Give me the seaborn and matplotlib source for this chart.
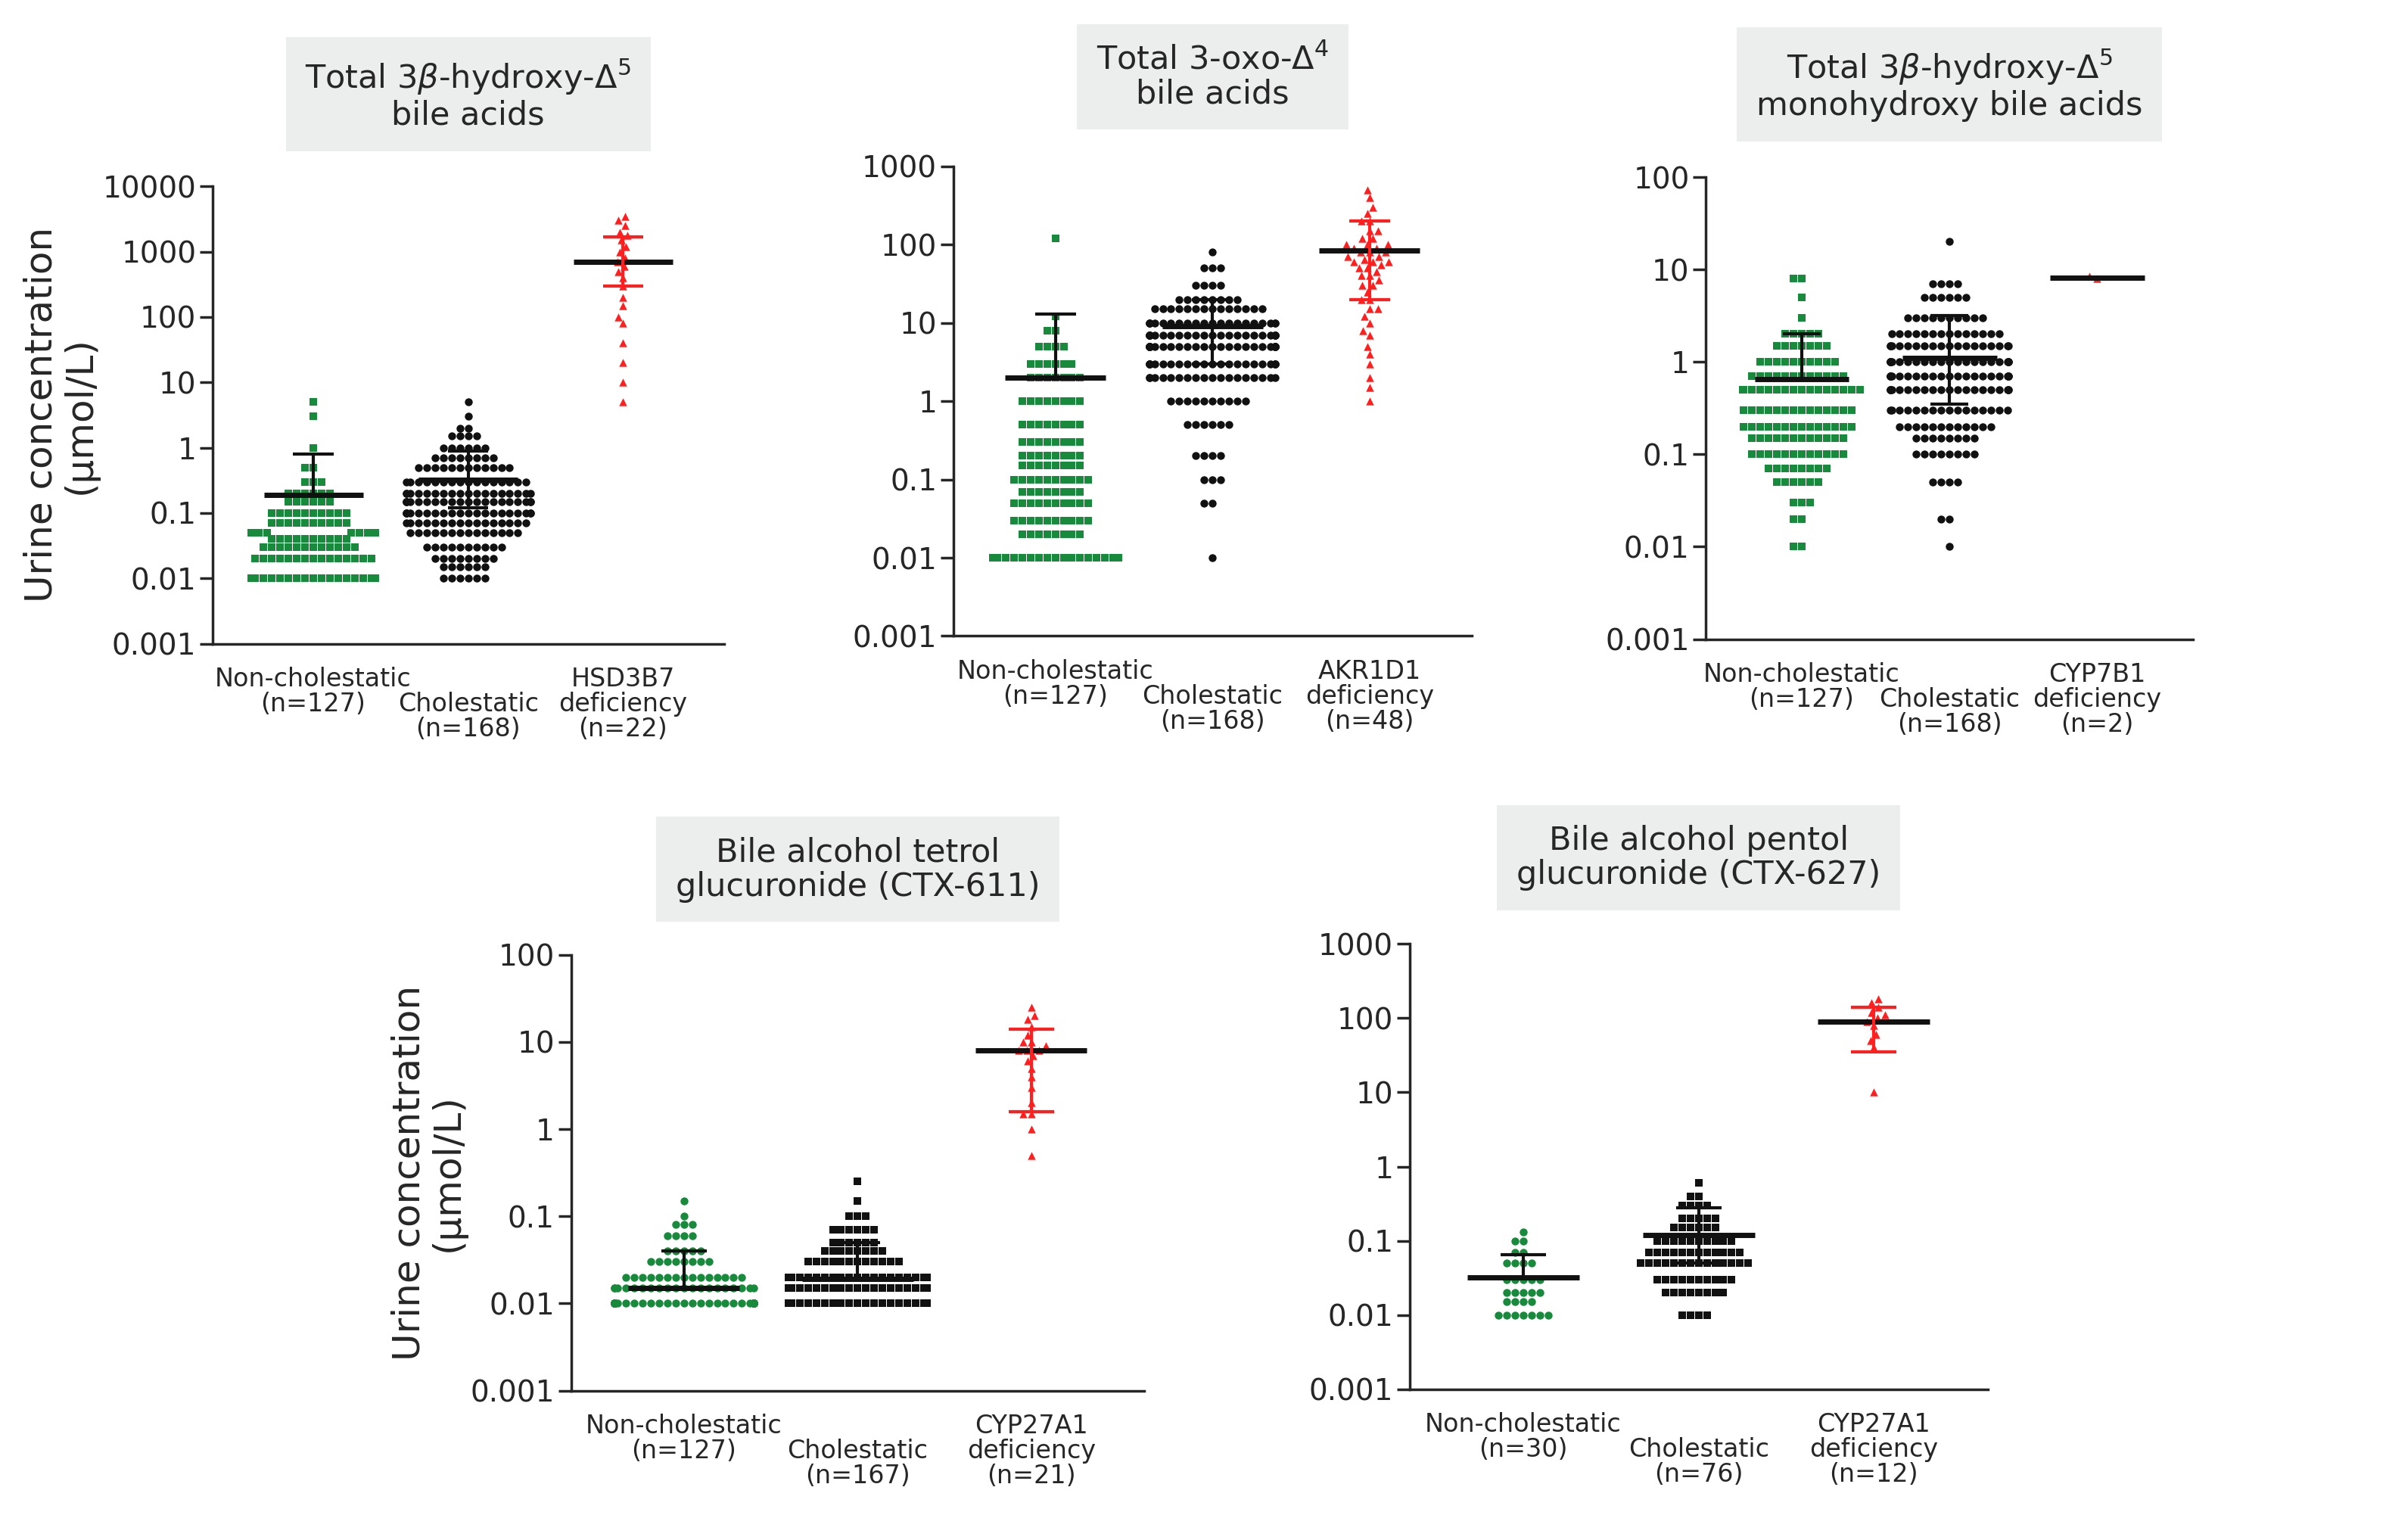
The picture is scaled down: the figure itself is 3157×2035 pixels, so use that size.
import numpy as np
import pandas as pd
import seaborn as sns
import matplotlib.pyplot as plt
from matplotlib.ticker import FixedLocator, NullLocator

sns.set_style("ticks")
plt.rcParams['font.family'] = ['DejaVu Sans']

def counts(d):
	vals = []
	for v, n in d.items():
		vals += [v]*n
	return vals

# Panel definitions: title, axes rect, ylim top, groups (label, values, marker, colour, median, low, high)
GREEN = '#178a3c'
BLACK = '#111111'
RED = '#ff1f1f'

panels = [
	(r"Total 3$\beta$-hydroxy-$\Delta^5$" + "\nbile acids", [0.089, 0.582, 0.214, 0.297], 10000, True, [
		("Non-cholestatic\n(n=127)", counts({0.01:40, 0.02:15, 0.03:12, 0.04:10, 0.05:10, 0.07:10, 0.1:10, 0.15:6, 0.2:6, 0.3:3, 0.5:2, 1:1, 3:1, 5:1}), 's', GREEN, 0.19, 0.19, 0.8),
		("\nCholestatic\n(n=168)", counts({0.01:6, 0.015:6, 0.02:8, 0.03:10, 0.05:14, 0.07:16, 0.1:20, 0.15:20, 0.2:18, 0.3:16, 0.5:12, 0.7:8, 1:6, 1.5:4, 2:2, 3:1, 5:1}), 'o', BLACK, 0.32, 0.12, 0.9),
		("HSD3B7\ndeficiency\n(n=22)", [5, 10, 20, 40, 80, 100, 150, 200, 300, 400, 500, 600, 700, 800, 1000, 1200, 1500, 1800, 2000, 2500, 3000, 3500], '^', RED, 700, 300, 1700),
	]),
	(r"Total 3-oxo-$\Delta^4$" + "\nbile acids", [0.399, 0.587, 0.217, 0.305], 1000, False, [
		("Non-cholestatic\n(n=127)", counts({0.01:20, 0.02:8, 0.03:10, 0.05:10, 0.07:8, 0.1:10, 0.15:8, 0.2:8, 0.3:8, 0.5:8, 1:8, 2:7, 3:6, 5:4, 8:2, 12:1, 120:1}), 's', GREEN, 2, 2, 13),
		("\nCholestatic\n(n=168)", counts({0.01:1, 0.05:2, 0.1:3, 0.2:4, 0.5:6, 1:10, 2:18, 3:22, 5:28, 7:24, 10:20, 15:14, 20:8, 30:4, 50:3, 80:1}), 'o', BLACK, 9, 3, 20),
		("AKR1D1\ndeficiency\n(n=48)", [1, 1.5, 2, 3, 4, 5, 7, 10, 12, 15, 20, 25, 30, 40, 50, 60, 70, 80, 90, 100, 120, 150, 200, 250, 300, 400, 500,
			30, 40, 50, 60, 70, 80, 100, 100, 120, 150, 60, 80, 90, 200, 15, 20, 8, 35, 45, 55, 65], '^', RED, 85, 20, 200),
	]),
	(r"Total 3$\beta$-hydroxy-$\Delta^5$" + "\nmonohydroxy bile acids", [0.714, 0.585, 0.204, 0.300], 100, False, [
		("Non-cholestatic\n(n=127)", counts({0.01:2, 0.02:2, 0.03:3, 0.05:6, 0.07:8, 0.1:12, 0.15:12, 0.2:14, 0.3:14, 0.5:16, 0.7:12, 1:10, 1.5:7, 2:5, 3:1, 5:1, 8:2}), 's', GREEN, 0.65, 0.65, 2),
		("\nCholestatic\n(n=168)", counts({0.01:1, 0.02:2, 0.05:4, 0.1:8, 0.15:8, 0.2:12, 0.3:16, 0.5:20, 0.7:22, 1:22, 1.5:18, 2:14, 3:10, 5:6, 7:4, 20:1}), 'o', BLACK, 1.1, 0.35, 3.2),
		("CYP7B1\ndeficiency\n(n=2)", [8, 8.5], '^', RED, 8.2, 8.2, 8.2),
	]),
	("Bile alcohol tetrol\nglucuronide (CTX-611)", [0.239, 0.097, 0.240, 0.283], 100, True, [
		("Non-cholestatic\n(n=127)", counts({0.01:70, 0.015:20, 0.02:15, 0.03:8, 0.04:5, 0.06:4, 0.08:3, 0.1:1, 0.15:1}), 'o', GREEN, 0.015, 0.015, 0.04),
		("\nCholestatic\n(n=167)", counts({0.01:80, 0.015:25, 0.02:25, 0.03:12, 0.04:8, 0.05:6, 0.07:6, 0.1:3, 0.15:1, 0.25:1}), 's', BLACK, 0.019, 0.019, 0.05),
		("CYP27A1\ndeficiency\n(n=21)", [0.5, 1, 1.5, 1.5, 2, 3, 4, 5, 6, 7, 8, 8, 8, 9, 10, 10, 12, 15, 18, 20, 25], '^', RED, 8, 1.6, 14),
	]),
	("Bile alcohol pentol\nglucuronide (CTX-627)", [0.590, 0.098, 0.242, 0.289], 1000, False, [
		("Non-cholestatic\n(n=30)", counts({0.01:7, 0.015:4, 0.02:5, 0.03:5, 0.05:4, 0.07:2, 0.1:2, 0.13:1}), 'o', GREEN, 0.032, 0.032, 0.065),
		("\nCholestatic\n(n=76)", counts({0.01:4, 0.02:8, 0.03:10, 0.05:14, 0.07:12, 0.1:10, 0.15:6, 0.2:5, 0.3:4, 0.4:2, 0.6:1}), 's', BLACK, 0.12, 0.05, 0.28),
		("CYP27A1\ndeficiency\n(n=12)", [10, 40, 50, 60, 80, 90, 100, 110, 120, 140, 160, 180], '^', RED, 90, 35, 140),
	]),
]

fig = plt.figure(figsize=(31.57, 20.35), dpi=100)

for title, rect, top, ylab, groups in panels:
	ax = fig.add_axes(rect)
	ax.set_yscale('log')
	ax.set_ylim(0.001, top)
	for i, (lab, vals, mk, col, med, lo, hi) in enumerate(groups):
		df = pd.DataFrame({'x': [i]*len(vals), 'y': vals})
		sns.swarmplot(data=df, x='x', y='y', marker=mk, color=col, size=7.5, ax=ax, native_scale=True, warn_thresh=1)
		ax.hlines(med, i-0.32, i+0.32, color=BLACK, lw=5, zorder=5)
		ecol = BLACK if col != RED else RED
		ax.vlines(i, lo, hi, color=ecol, lw=3, zorder=5)
		for v in (lo, hi):
			if v != med:
				ax.hlines(v, i-0.13, i+0.13, color=ecol, lw=3, zorder=5)
	ax.set_xlim(-0.65, 2.65)
	ax.set_xticks([0, 1, 2])
	ax.set_xticklabels([g[0] for g in groups], fontsize=24, linespacing=1.0)
	ax.tick_params(axis='x', length=0, pad=22)
	decades = [10.0**k for k in range(-3, int(np.log10(top))+1)]
	ax.yaxis.set_major_locator(FixedLocator(decades))
	ax.yaxis.set_minor_locator(NullLocator())
	ax.set_yticklabels([("%g" % d) for d in decades], fontsize=28)
	ax.tick_params(axis='y', length=12, width=2.5)
	for s in ('left', 'bottom'):
		ax.spines[s].set_linewidth(2.5)
	sns.despine(ax=ax)
	ax.set_xlabel('')
	ax.set_ylabel('Urine concentration\n(μmol/L)' if ylab else '', fontsize=36, linespacing=1.1)
	ax.text(0.5, 1.12, title, transform=ax.transAxes, ha='center', va='bottom', fontsize=31, linespacing=1.1,
		bbox=dict(boxstyle='square,pad=0.6', facecolor='#ebeeec', edgecolor='none'))

fig.savefig('out.png', dpi=100)
